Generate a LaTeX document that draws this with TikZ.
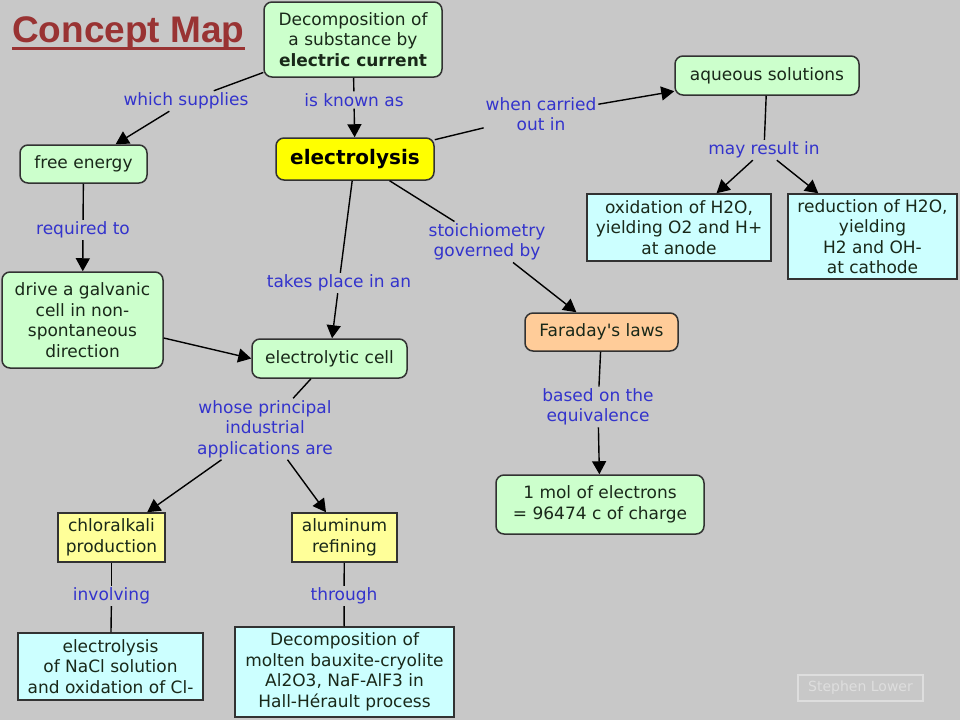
\documentclass[tikz,border=0pt]{standalone}
\usepackage{fontspec}
\setmainfont{DejaVu Sans}
\newfontfamily\titlefont{Liberation Sans}
\usetikzlibrary{arrows.meta}
\definecolor{bg}{RGB}{200,200,200}
\definecolor{ngreen}{RGB}{204,255,204}
\definecolor{nyellow}{RGB}{255,255,0}
\definecolor{pyellow}{RGB}{255,255,153}
\definecolor{ncyan}{RGB}{204,255,255}
\definecolor{norange}{RGB}{255,204,153}
\definecolor{lblue}{RGB}{51,51,204}
\definecolor{ntext}{RGB}{25,40,25}
\definecolor{edgecol}{RGB}{50,50,50}
\definecolor{titlered}{RGB}{153,51,51}
\definecolor{signcol}{RGB}{222,222,222}
\begin{document}
\begin{tikzpicture}[x=1pt,y=-1pt,
  concept/.style={draw=edgecol, line width=1.5pt, align=center, inner sep=0pt, text=ntext, font=\fontsize{17}{20.5}\selectfont},
  roundbox/.style={concept, rounded corners=8pt},
  greenbox/.style={roundbox, fill=ngreen},
  cyanbox/.style={concept, fill=ncyan},
  ybox/.style={concept, fill=pyellow},
  linkph/.style={text=lblue, align=center, inner sep=2pt, outer sep=0pt, font=\fontsize{17}{20.5}\selectfont},
  conn/.style={draw=black, line width=1.4pt},
  arr/.style={conn, -{Triangle[length=13pt,width=14pt]}},
]
\fill[bg] (0,0) rectangle (960,720);
\useasboundingbox (0,0) rectangle (960,720);

% title
\node[anchor=base west, inner sep=0pt, text=titlered, font=\titlefont\bfseries\fontsize{37}{40}\selectfont] (title) at (12,42) {Concept Map};
\draw[titlered, line width=3pt] ([yshift=-6pt]title.base west) -- ([yshift=-6pt]title.base east);

% concepts
\node[greenbox, minimum width=178pt, minimum height=75pt] (decomp) at (353,39.5) {Decomposition of\\a substance by\\\textbf{electric current}};
\node[greenbox, minimum width=127pt, minimum height=38pt] (free) at (83.5,164) {free energy};
\node[roundbox, fill=nyellow, text=black, minimum width=158pt, minimum height=42pt, font=\bfseries\fontsize{20}{24}\selectfont] (elys) at (355,159) {electrolysis};
\node[greenbox, minimum width=184pt, minimum height=39pt] (aq) at (767,75.5) {aqueous solutions};
\node[cyanbox, minimum width=184pt, minimum height=67pt] (ox) at (679,227.5) {oxidation of H2O,\\yielding O2 and H+\\at anode};
\node[cyanbox, minimum width=169pt, minimum height=85pt] (red) at (872.5,236.5) {reduction of H2O,\\yielding\\H2 and OH-\\at cathode};
\node[greenbox, minimum width=161pt, minimum height=96pt] (drive) at (82.5,320) {drive a galvanic\\cell in non-\\spontaneous\\direction};
\node[greenbox, minimum width=155pt, minimum height=39pt] (cell) at (329.5,358.5) {electrolytic cell};
\node[roundbox, fill=norange, minimum width=153pt, minimum height=38pt] (far) at (601.5,332) {Faraday\textquotesingle s laws};
\node[greenbox, minimum width=208pt, minimum height=59pt] (mol) at (600,504.5) {1 mol of electrons\\= 96474 c of charge};
\node[ybox, minimum width=107pt, minimum height=49pt] (chlor) at (111.5,537.5) {chloralkali\\production};
\node[ybox, minimum width=105pt, minimum height=49pt] (alum) at (344.5,537.5) {aluminum\\refining};
\node[cyanbox, minimum width=185pt, minimum height=67pt] (nacl) at (110.5,666.5) {electrolysis\\of NaCl solution\\and oxidation of Cl-};
\node[cyanbox, minimum width=219pt, minimum height=90pt] (molten) at (344.5,672) {Decomposition of\\molten bauxite-cryolite\\Al2O3, NaF-AlF3 in\\Hall-Hérault process};

% signature
\node[draw=signcol, line width=1.5pt, text=signcol, minimum width=125pt, minimum height=26pt, inner sep=0pt, font=\fontsize{14}{16}\selectfont] (sign) at (860.5,688) {Stephen Lower};

% linking phrases
\node[linkph] (l1) at (186,101) {which supplies};
\node[linkph] (l2) at (354,100) {is known as};
\node[linkph] (l3) at (541,114) {when carried\\out in};
\node[linkph] (l4) at (764,150) {may result in};
\node[linkph] (l5) at (83,230) {required to};
\node[linkph] (l6) at (339,283) {takes place in an};
\node[linkph] (l7) at (487,242) {stoichiometry\\governed by};
\node[linkph] (l8) at (598,407) {based on the\\equivalence};
\node[linkph] (l9) at (265,429) {whose principal\\industrial\\applications are};
\node[linkph] (l10) at (111.5,596) {involving};
\node[linkph] (l11) at (344,596) {through};

% connectors
\draw[conn] (decomp) -- (l1);
\draw[arr] (l1) -- (free);
\draw[conn] (decomp) -- (l2);
\draw[arr] (l2) -- (elys);
\draw[conn] (elys) -- (l3);
\draw[arr] (l3) -- (aq);
\draw[conn] (aq) -- (l4);
\draw[arr] (l4) -- (ox);
\draw[arr] (l4) -- (red);
\draw[conn] (free) -- (l5);
\draw[arr] (l5) -- (drive);
\draw[arr] ([yshift=-18pt]drive.east) -- (cell.west);
\draw[conn] (elys) -- (l6);
\draw[arr] (l6) -- (cell);
\draw[conn] (elys) -- (l7);
\draw[arr] (l7) -- (far);
\draw[conn] (far) -- (l8);
\draw[arr] (l8) -- (mol);
\draw[conn] (cell) -- (l9);
\draw[arr] (l9) -- (chlor);
\draw[arr] (l9) -- (alum);
\draw[conn] (chlor) -- (l10);
\draw[conn] (l10) -- (nacl);
\draw[conn] (alum) -- (l11);
\draw[conn] (l11) -- (molten);
\end{tikzpicture}
\end{document}
